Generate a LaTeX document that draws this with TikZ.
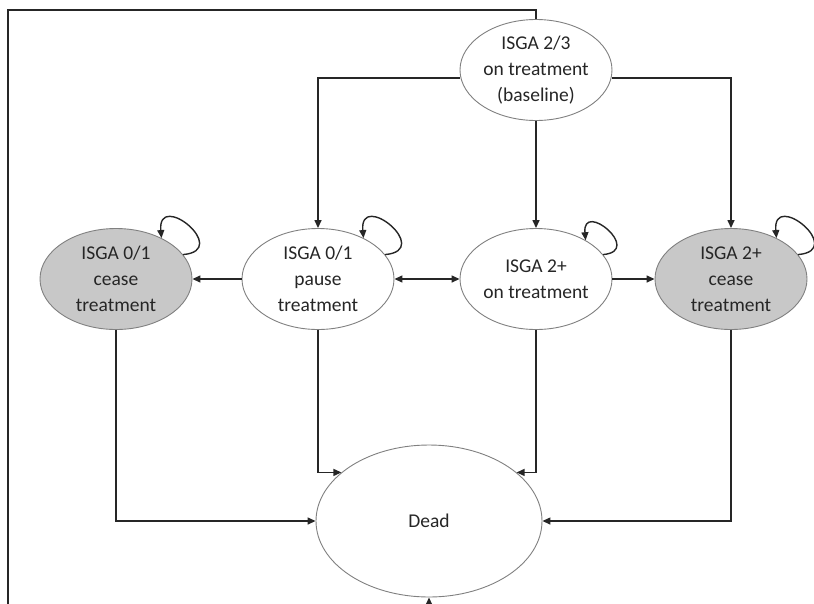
\documentclass[tikz,border=0pt]{standalone}
\usepackage{fontspec}
\setmainfont{Carlito}
\usetikzlibrary{automata, positioning, arrows.meta, shapes.geometric}
\definecolor{ceasegray}{RGB}{200,200,200}
\definecolor{rimgray}{RGB}{128,128,128}
\tikzset{
	x=1pt, y=-1pt, % one unit per pixel of the layout, y running down
	every state/.style={ellipse, draw=rimgray, line width=0.9pt, fill=white, inner sep=0pt, minimum width=152pt, minimum height=101pt, align=center, text=black!85, font=\fontsize{19.5}{26}\selectfont}, % oval for each state
	ceased/.style={fill=ceasegray}, % states where treatment has stopped
	link/.style={-{Triangle[length=8pt, width=7pt]}, line width=1.4pt, draw=black!85}, % transitions
}

\begin{document}
\begin{tikzpicture}
	\useasboundingbox (0,0) rectangle (814,603);
	\clip (0,0) rectangle (814,603);
	\node[state, ceased] (cease01) at (116,279) {ISGA 0/1\\cease\\treatment};
	\node[state, right of=cease01, node distance=202pt] (pause01) {ISGA 0/1\\pause\\treatment};
	\node[state, right of=pause01, node distance=218pt] (on2) {ISGA 2+\\on treatment};
	\node[state, ceased, right of=on2, node distance=195pt] (cease2) {ISGA 2+\\cease\\treatment};
	\node[state, above of=on2, node distance=209pt] (base) {ISGA 2/3\\on treatment\\(baseline)};
	\node[state, minimum width=226pt, minimum height=152pt] (dead) at (429,521) {Dead};
	\coordinate (topleft) at (8,10);
	\coordinate (botleft) at (8,625);
	% from baseline
	\draw[link] (base.186) -| (pause01.north);
	\draw[link] (base) -- (on2);
	\draw[link] (base.354) -| (cease2.north);
	\draw[link] (base) |- (topleft) -- (botleft) -| (dead);
	% across the middle row
	\draw[link] (pause01) -- (cease01);
	\draw[link, {Triangle[length=8pt, width=7pt]}-{Triangle[length=8pt, width=7pt]}] (pause01) -- (on2);
	\draw[link] (on2) -- (cease2);
	% staying put
	\draw[link] (cease01.20) to[out=5, in=95, looseness=4.6] (cease01.42);
	\draw[link] (pause01.20) to[out=5, in=95, looseness=4.6] (pause01.42);
	\draw[link] (on2.20) to[out=5, in=95, looseness=4.6] (on2.38);
	\draw[link] (cease2.20) to[out=5, in=95, looseness=4.6] (cease2.42);
	% to dead
	\draw[link] (cease01) |- (dead);
	\draw[link] (pause01) |- (dead.151);
	\draw[link] (on2) |- (dead.29);
	\draw[link] (cease2) |- (dead);
\end{tikzpicture}
\end{document}
